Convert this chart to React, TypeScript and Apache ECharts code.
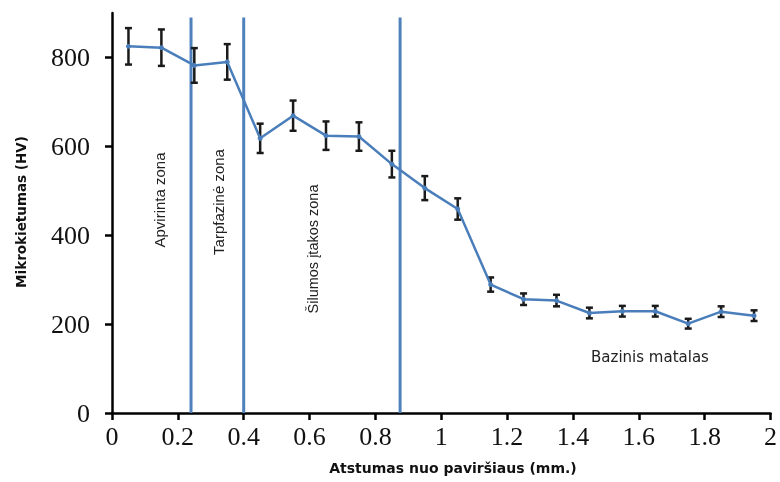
import React, { useEffect, useRef } from "react";
import * as echarts from "echarts";

const distances = [0.05, 0.15, 0.25, 0.35, 0.45, 0.55, 0.65, 0.75, 0.85, 0.95, 1.05, 1.15, 1.25, 1.35, 1.45, 1.55, 1.65, 1.75, 1.85, 1.95];
const hardness = [825, 822, 782, 790, 618, 669, 624, 622, 560, 506, 459, 289, 256, 253, 225, 229, 229, 201, 228, 219];
const errors = [41, 41, 39, 40, 33, 34, 32, 32, 30, 27, 24, 16, 13, 13, 12, 12, 12, 11, 12, 12];
const zoneBoundaries = [0.24, 0.4, 0.875];
const yTicks = [0, 200, 400, 600, 800];
const zoneLabels = ["Apvirinta zona", "Tarpfazinė zona", "Šilumos įtakos zona"];
const baseLabel = "Bazinis matalas";
const xName = "Atstumas nuo paviršiaus (mm.)";
const yName = "Mikrokietumas (HV)";

const LINE_COLOR = "#4A7EBB";
const ZONE_COLOR = "#4F81BD";
const SERIF = "'Times New Roman', 'Liberation Serif', serif";

export default function App() {
  const ref = useRef<HTMLDivElement>(null);
  useEffect(() => {
    if (!ref.current) return;
    const chart = echarts.init(ref.current, null, { renderer: "svg" });
    const lineData = distances.map((d, i) => [d, hardness[i]]);
    const errData = distances.map((d, i) => [d, hardness[i] - errors[i], hardness[i] + errors[i]]);
    const zoneSeries = zoneBoundaries.map((b) => ({
      type: "line",
      data: [[b, 0], [b, 890]],
      symbol: "none",
      lineStyle: { color: ZONE_COLOR, width: 3 },
      z: 1,
      silent: true,
    }));
    chart.setOption({
      animation: false,
      grid: { left: 112, right: 8, top: 13, bottom: 69 },
      xAxis: {
        type: "value",
        min: 0,
        max: 2,
        interval: 0.2,
        axisLine: { show: true, lineStyle: { color: "#000", width: 2.5 } },
        axisTick: { show: true, length: 7, lineStyle: { color: "#000", width: 2.5 } },
        axisLabel: {
          fontFamily: SERIF,
          fontSize: 26,
          color: "#111",
          margin: 10,
        },
        splitLine: { show: false },
      },
      yAxis: {
        type: "value",
        min: 0,
        max: 900,
        interval: 200,
        axisLine: { show: true, lineStyle: { color: "#000", width: 2.5 } },
        axisTick: { show: true, length: 7, customValues: yTicks, lineStyle: { color: "#000", width: 2.5 } },
        axisLabel: {
          fontFamily: SERIF,
          fontSize: 26,
          color: "#111",
          margin: 22,
          customValues: yTicks,
        },
        splitLine: { show: false },
      },
      series: [
        ...zoneSeries,
        {
          type: "custom",
          data: errData,
          z: 2,
          renderItem: (params: any, api: any) => {
            const x = api.value(0);
            const lo = api.coord([x, api.value(1)]);
            const hi = api.coord([x, api.value(2)]);
            const cap = 3.5;
            const style = { stroke: "#1a1a1a", lineWidth: 2.5 };
            return {
              type: "group",
              children: [
                { type: "line", shape: { x1: lo[0], y1: lo[1], x2: hi[0], y2: hi[1] }, style },
                { type: "line", shape: { x1: lo[0] - cap, y1: lo[1], x2: lo[0] + cap, y2: lo[1] }, style },
                { type: "line", shape: { x1: hi[0] - cap, y1: hi[1], x2: hi[0] + cap, y2: hi[1] }, style },
              ],
            };
          },
        },
        {
          type: "line",
          data: lineData,
          symbol: "circle",
          symbolSize: 5,
          itemStyle: { color: LINE_COLOR },
          lineStyle: { color: LINE_COLOR, width: 2.5 },
          z: 3,
        },
      ],
      graphic: [
        {
          type: "text",
          x: 159,
          y: 200,
          rotation: Math.PI / 2,
          style: { text: zoneLabels[0], fontFamily: "Liberation Sans", fontSize: 15, fill: "#222", align: "center", verticalAlign: "middle" },
        },
        {
          type: "text",
          x: 218,
          y: 202,
          rotation: Math.PI / 2,
          style: { text: zoneLabels[1], fontFamily: "Liberation Sans", fontSize: 15, fill: "#222", align: "center", verticalAlign: "middle" },
        },
        {
          type: "text",
          x: 313,
          y: 249,
          rotation: Math.PI / 2,
          style: { text: zoneLabels[2], fontFamily: "Liberation Sans", fontSize: 14.5, fill: "#222", align: "center", verticalAlign: "middle" },
        },
        {
          type: "text",
          x: 650,
          y: 357,
          style: { text: baseLabel, fontFamily: "DejaVu Sans", fontSize: 15, fill: "#222", align: "center", verticalAlign: "middle" },
        },
        {
          type: "text",
          x: 453,
          y: 468,
          style: { text: xName, fontFamily: "DejaVu Sans", fontWeight: "bold", fontSize: 14, fill: "#111", align: "center", verticalAlign: "middle" },
        },
        {
          type: "text",
          x: 21,
          y: 212,
          rotation: Math.PI / 2,
          style: { text: yName, fontFamily: "DejaVu Sans", fontWeight: "bold", fontSize: 13.5, fill: "#111", align: "center", verticalAlign: "middle" },
        },
      ],
    });
    return () => chart.dispose();
  }, []);
  return <div ref={ref} style={{ position: "fixed", left: 0, top: 0, width: 780, height: 482 }} />;
}
